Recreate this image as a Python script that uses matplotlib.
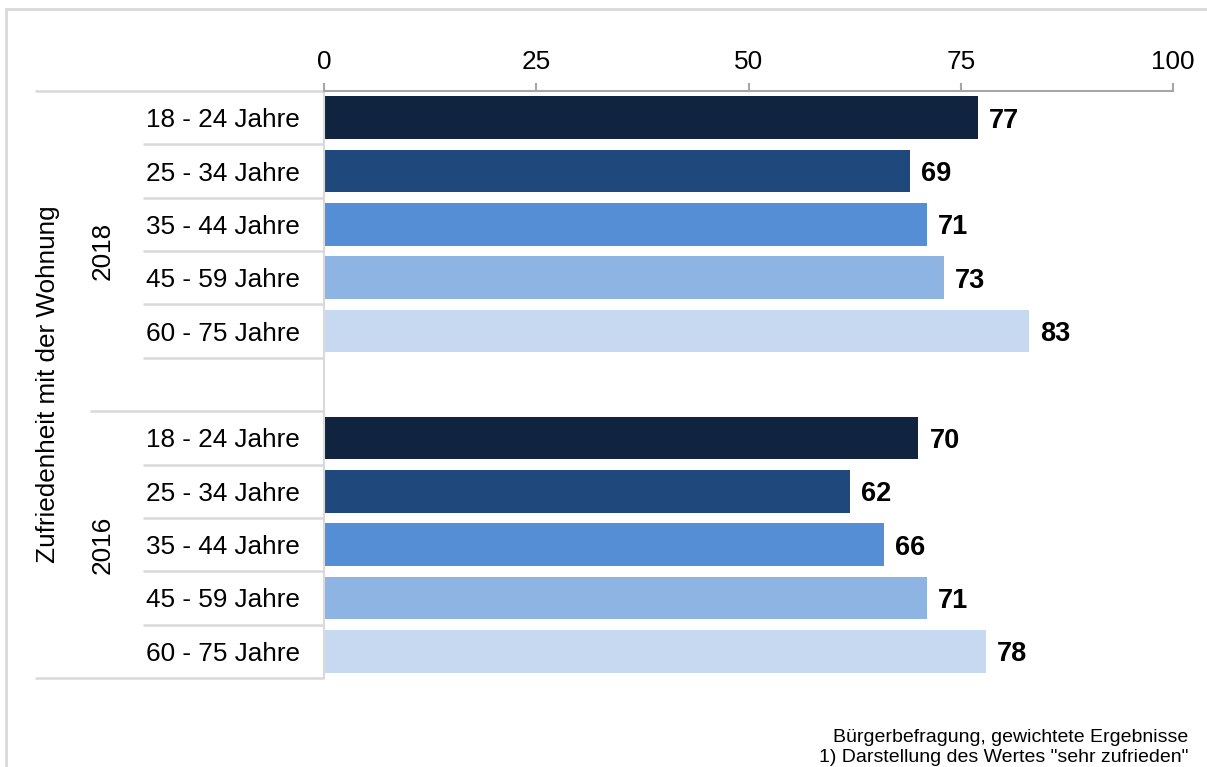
import matplotlib
matplotlib.use('Agg')
import matplotlib.pyplot as plt
import matplotlib.transforms as mtransforms
from matplotlib.patches import Rectangle

# ============================================================
# DATA
# ============================================================
AGE_GROUPS = ['18 - 24 Jahre', '25 - 34 Jahre', '35 - 44 Jahre', '45 - 59 Jahre', '60 - 75 Jahre']
YEARS = ['2018', '2016']
VALUES_2018 = [77, 69, 71, 73, 83]
VALUES_2016 = [70, 62, 66, 71, 78]
X_TICKS = [0, 25, 50, 75, 100]
OUTER_LABEL = 'Zufriedenheit mit der Wohnung'
FOOTNOTE = ['Bürgerbefragung, gewichtete Ergebnisse',
            '1) Darstellung des Wertes "sehr zufrieden"']

COLORS = ['#10243F', '#1F497D', '#558ED5', '#8EB4E3', '#C6D9F1']
GRID_GRAY = '#D9D9D9'
AXIS_GRAY = '#A6A6A6'
FS = 18.8

plt.rcParams['font.family'] = ['Liberation Sans', 'DejaVu Sans']

W, H = 1207, 767
fig = plt.figure(figsize=(W / 100, H / 100), dpi=100)
ax = fig.add_axes([324 / W, 1 - 678 / H, (1173 - 324) / W, (678 - 91) / H])

# row positions: 2018 rows 0-4, empty row 5, 2016 rows 6-10
rows_2018 = list(range(len(AGE_GROUPS)))
rows_2016 = [r + len(AGE_GROUPS) + 1 for r in rows_2018]

for rows, vals in [(rows_2018, VALUES_2018), (rows_2016, VALUES_2016)]:
    ax.barh(rows, vals, height=0.8, color=COLORS, edgecolor='none')
    for r, v in zip(rows, vals):
        ax.annotate(str(v), (v, r), xytext=(8, 0), textcoords='offset points',
                    va='center_baseline', ha='left', fontsize=19.5, fontweight='bold')

n_rows = len(rows_2018) + len(rows_2016) + 1
ax.set_ylim(n_rows - 0.5, -0.5)
ax.set_xlim(0, 100)
ax.set_yticks([])

ax.xaxis.tick_top()
ax.set_xticks(X_TICKS)
ax.tick_params(axis='x', length=5.5, width=1.5, color=AXIS_GRAY, labelsize=FS, pad=7)

for s in ['right', 'bottom']:
    ax.spines[s].set_visible(False)
ax.spines['top'].set_color(AXIS_GRAY)
ax.spines['top'].set_linewidth(1.5)
ax.spines['left'].set_color(GRID_GRAY)
ax.spines['left'].set_linewidth(1.5)

# category labels and separator lines left of the axis
trans = mtransforms.blended_transform_factory(fig.transFigure, ax.transData)
x_lab = 300 / W
for rows in [rows_2018, rows_2016]:
    for r, name in zip(rows, AGE_GROUPS):
        ax.text(x_lab, r, name, transform=trans, ha='right', va='center_baseline', fontsize=FS)

x_cat, x_year, x_outer, x_axis = 143 / W, 90 / W, 35 / W, 324 / W
sep_lines = [(r + 0.5, x_cat) for r in rows_2018 + rows_2016[:-1]]
sep_lines += [(rows_2018[-1] + 1.5, x_year), (-0.5, x_outer), (n_rows - 0.5, x_outer)]
for y, x0 in sep_lines:
    ax.plot([x0, x_axis], [y, y], transform=trans, color=GRID_GRAY, lw=1.8,
            clip_on=False, solid_capstyle='butt')

# year labels and outer label
y_2018 = (rows_2018[0] - 0.5 + rows_2018[-1] + 1.5) / 2
y_2016 = (rows_2016[0] - 0.5 + rows_2016[-1] + 0.5) / 2
ax.text(103 / W, y_2018, YEARS[0], transform=trans, rotation=90, ha='center', va='center', fontsize=FS)
ax.text(103 / W, y_2016, YEARS[1], transform=trans, rotation=90, ha='center', va='center', fontsize=FS)
ax.text(48 / W, (n_rows - 1) / 2, OUTER_LABEL, transform=trans, rotation=90,
        ha='center', va='center', fontsize=FS)

# footnote
fig.text(1188 / W, 1 - 742 / H, FOOTNOTE[0], ha='right', va='baseline', fontsize=14)
fig.text(1188 / W, 1 - 762 / H, FOOTNOTE[1], ha='right', va='baseline', fontsize=14)

# frame around the chart
fig.patches.append(Rectangle((6 / W, -0.05), 1.1, 1 - 9 / H + 0.05, transform=fig.transFigure,
                             fill=False, edgecolor=GRID_GRAY, lw=2))

fig.savefig('out.png', dpi=100)
